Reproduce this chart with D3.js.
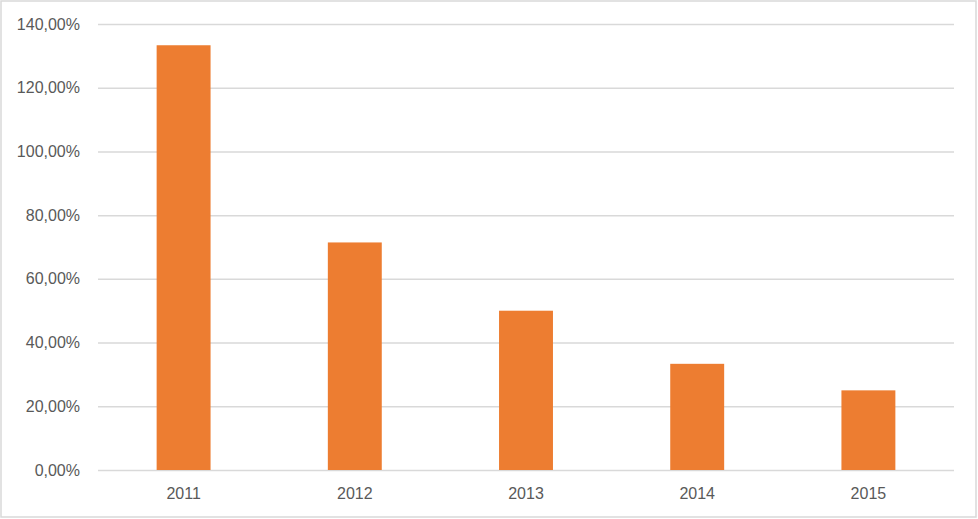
<!DOCTYPE html>
<html>
<head>
<meta charset="UTF-8">
<script src="https://cdnjs.cloudflare.com/ajax/libs/d3/7.8.5/d3.min.js"></script>
<style>
  body { margin: 0; background: #fff; }
  text { font-family: "Liberation Sans", Arial, sans-serif; fill: #595959; }
</style>
</head>
<body>
<div id="chart"></div>
<script>
var years = ["2011", "2012", "2013", "2014", "2015"];
var rates = [133.33, 71.43, 50.0, 33.33, 25.0];
var yTicks = [0, 20, 40, 60, 80, 100, 120, 140];

var w = 978, h = 519,
    plotLeft = 98, plotRight = 954, plotTop = 24, plotBottom = 470;

var svg = d3.select("#chart").append("svg")
    .attr("width", w)
    .attr("height", h);

// outer border
svg.append("rect")
    .attr("x", 1).attr("y", 1)
    .attr("width", w - 3).attr("height", h - 3)
    .attr("fill", "#fff")
    .attr("stroke", "#d9d9d9")
    .attr("stroke-width", 1.5);

var x = d3.scaleBand()
    .domain(years)
    .range([plotLeft, plotRight])
    .paddingInner(0.685)
    .paddingOuter(0.3425);

var y = d3.scaleLinear()
    .domain([0, 140])
    .range([plotBottom, plotTop]);

var fmt = function(d) { return d3.format(".2f")(d).replace(".", ",") + "%"; };

// grid + y labels
var yAxis = svg.append("g")
    .attr("transform", "translate(" + plotLeft + ",0)")
    .call(d3.axisLeft(y)
        .tickValues(yTicks)
        .tickSize(-(plotRight - plotLeft))
        .tickPadding(18)
        .tickFormat(fmt));
yAxis.select(".domain").remove();
yAxis.selectAll(".tick line")
    .attr("stroke", "#d9d9d9")
    .attr("stroke-width", 1.5);
yAxis.selectAll(".tick text")
    .attr("font-size", 16)
    .attr("fill", "#595959")
    .style("font-family", "Liberation Sans, Arial, sans-serif");

// bars
svg.selectAll("rect.bar")
    .data(rates)
    .enter()
    .append("rect")
    .attr("class", "bar")
    .attr("x", function(d, i) { return x(years[i]); })
    .attr("y", function(d) { return y(d); })
    .attr("width", x.bandwidth())
    .attr("height", function(d) { return y(0) - y(d); })
    .attr("fill", "#ed7d31");

// x labels
var xAxis = svg.append("g")
    .attr("transform", "translate(0," + plotBottom + ")")
    .call(d3.axisBottom(x).tickSize(0).tickPadding(18));
xAxis.select(".domain").remove();
xAxis.selectAll(".tick text")
    .attr("font-size", 16)
    .attr("fill", "#595959")
    .style("font-family", "Liberation Sans, Arial, sans-serif");
</script>
</body>
</html>
